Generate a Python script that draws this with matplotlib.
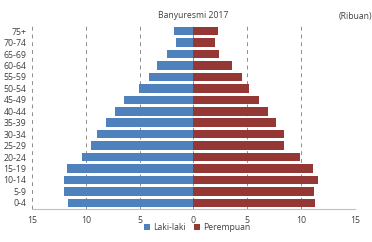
import matplotlib
matplotlib.use('Agg')
import matplotlib.pyplot as plt
import numpy as np

plt.rcParams['font.family'] = ['Open Sans', 'DejaVu Sans']

groups = ['0-4', '5-9', '10-14', '15-19', '20-24', '25-29', '30-34', '35-39',
          '40-44', '45-49', '50-54', '55-59', '60-64', '65-69', '70-74', '75+']
laki = [11.68, 12.02, 12.02, 11.78, 10.38, 9.55, 8.99, 8.12,
        7.26, 6.42, 5.09, 4.16, 3.42, 2.46, 1.63, 1.81]
perempuan = [11.34, 11.19, 11.59, 11.10, 9.89, 8.43, 8.43, 7.69,
             6.92, 6.05, 5.18, 4.50, 3.57, 2.37, 2.03, 2.27]
xticks = [-15, -10, -5, 0, 5, 10, 15]

fig = plt.figure(figsize=(3.72, 2.42), dpi=100)
ax = fig.add_axes([0.086, 0.138, 0.868, 0.757])

y = np.arange(len(groups))
ax.barh(y, -np.array(laki), height=0.75, color='#4F81BD', label='Laki-laki')
ax.barh(y, perempuan, height=0.75, color='#953735', label='Perempuan')

for t in xticks:
    ax.axvline(t, color='#8c8c8c', linestyle=(0, (4, 4)), linewidth=0.7, zorder=0)

ax.set_xlim(-15, 15)
ax.set_ylim(-0.5, len(groups) - 0.5)
ax.set_xticks(xticks)
ax.set_xticklabels([str(abs(t)) for t in xticks])
ax.set_yticks(y)
ax.set_yticklabels(groups)
ax.tick_params(axis='both', length=0, labelsize=6.3, colors='#404040')
ax.tick_params(axis='y', pad=4)
ax.tick_params(axis='x', pad=5)
for s in ['top', 'right', 'left']:
    ax.spines[s].set_visible(False)
ax.spines['bottom'].set_color('#bfbfbf')
ax.spines['bottom'].set_linewidth(0.8)

fig.text(0.52, 0.935, 'Banyuresmi 2017', ha='center', va='center', fontsize=6.2, color='#404040')
fig.text(0.955, 0.93, '(Ribuan)', ha='center', va='center', fontsize=6.2, color='#404040')

fig.legend(loc='center', bbox_to_anchor=(0.53, 0.058), ncol=2, frameon=False,
           fontsize=6.2, handlelength=0.7, handleheight=0.7, handletextpad=0.3,
           columnspacing=1.0, labelcolor='#404040')

fig.savefig('out.png', dpi=100)
